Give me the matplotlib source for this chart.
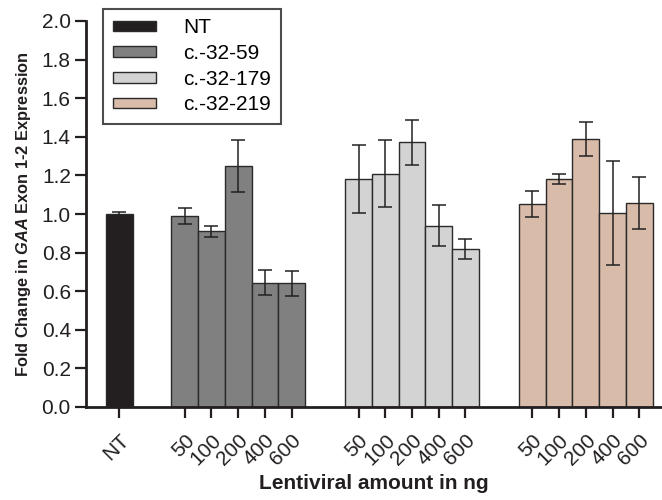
import matplotlib
matplotlib.use("Agg")
import matplotlib.pyplot as plt
import numpy as np

plt.rcParams['font.family'] = ['Liberation Sans', 'DejaVu Sans']
plt.rcParams['mathtext.fontset'] = 'custom'
plt.rcParams['mathtext.it'] = 'Liberation Sans:italic:bold'
plt.rcParams['mathtext.rm'] = 'Liberation Sans:bold'

doses = ['50', '100', '200', '400', '600']
groups = ['NT', 'c.-32-59', 'c.-32-179', 'c.-32-219']
colors = ['#231f20', '#808080', '#d3d3d3', '#d8bba9']

nt_val = [1.00]
nt_err = [0.01]
g59_val = [0.99, 0.91, 1.25, 0.645, 0.64]
g59_err = [0.04, 0.03, 0.135, 0.065, 0.065]
g179_val = [1.183, 1.209, 1.371, 0.94, 0.819]
g179_err = [0.177, 0.174, 0.117, 0.108, 0.05]
g219_val = [1.052, 1.181, 1.39, 1.005, 1.059]
g219_err = [0.067, 0.027, 0.088, 0.268, 0.135]

fig = plt.figure(figsize=(6.62, 5.0), dpi=100)
ax = fig.add_axes([0.130, 0.186, 0.870, 0.772])

starts = [2.45, 8.95, 15.45]
series = [(nt_val, nt_err), (g59_val, g59_err), (g179_val, g179_err), (g219_val, g219_err)]
positions = []
labels = []
for i, (vals, errs) in enumerate(series):
    if i == 0:
        x = np.array([0.0])
        labels += ['NT']
    else:
        x = starts[i - 1] + np.arange(len(vals))
        labels += doses
    positions += list(x)
    ax.bar(x, vals, width=1.0, color=colors[i], edgecolor='#2a2a2a', linewidth=1.0,
           label=groups[i], zorder=2)
    ax.errorbar(x, vals, yerr=errs, fmt='none', ecolor='#222222', elinewidth=1.1,
                capsize=4.8, capthick=1.1, zorder=3)

ax.set_xlim(-1.24, 20.3)
ax.set_ylim(0, 2.0)
ax.set_yticks(np.arange(0, 2.01, 0.2))
ax.set_yticklabels([f'{v:.1f}' for v in np.arange(0, 2.01, 0.2)], fontsize=15,
                   color='#231f20')
ax.set_xticks(positions)
ax.set_xticklabels(labels, rotation=45, ha='right', rotation_mode='anchor', fontsize=15,
                   color='#231f20')

for s in ['top', 'right']:
    ax.spines[s].set_visible(False)
for s in ['left', 'bottom']:
    ax.spines[s].set_linewidth(2.0)
    ax.spines[s].set_color('#231f20')
ax.tick_params(axis='both', direction='out', length=8, width=1.6, color='#231f20')
ax.tick_params(axis='x', pad=9)
ax.tick_params(axis='y', pad=3)

ax.set_ylabel(r'Fold Change in $\mathit{GAA}$ Exon 1-2 Expression', fontsize=11.8,
              fontweight='bold', labelpad=6, color='#231f20')
ax.set_xlabel('Lentiviral amount in ng', fontsize=15, fontweight='bold', labelpad=4,
              color='#231f20')

leg = ax.legend(loc='upper left', bbox_to_anchor=(0.03, 1.031), fontsize=15,
                frameon=True, fancybox=False, edgecolor='#231f20', handlelength=2.1,
                handleheight=0.4, labelspacing=0.32, borderpad=0.45, handletextpad=1.3,
                borderaxespad=0.0)
leg.get_frame().set_linewidth(1.5)

fig.savefig('out.png', dpi=100)
